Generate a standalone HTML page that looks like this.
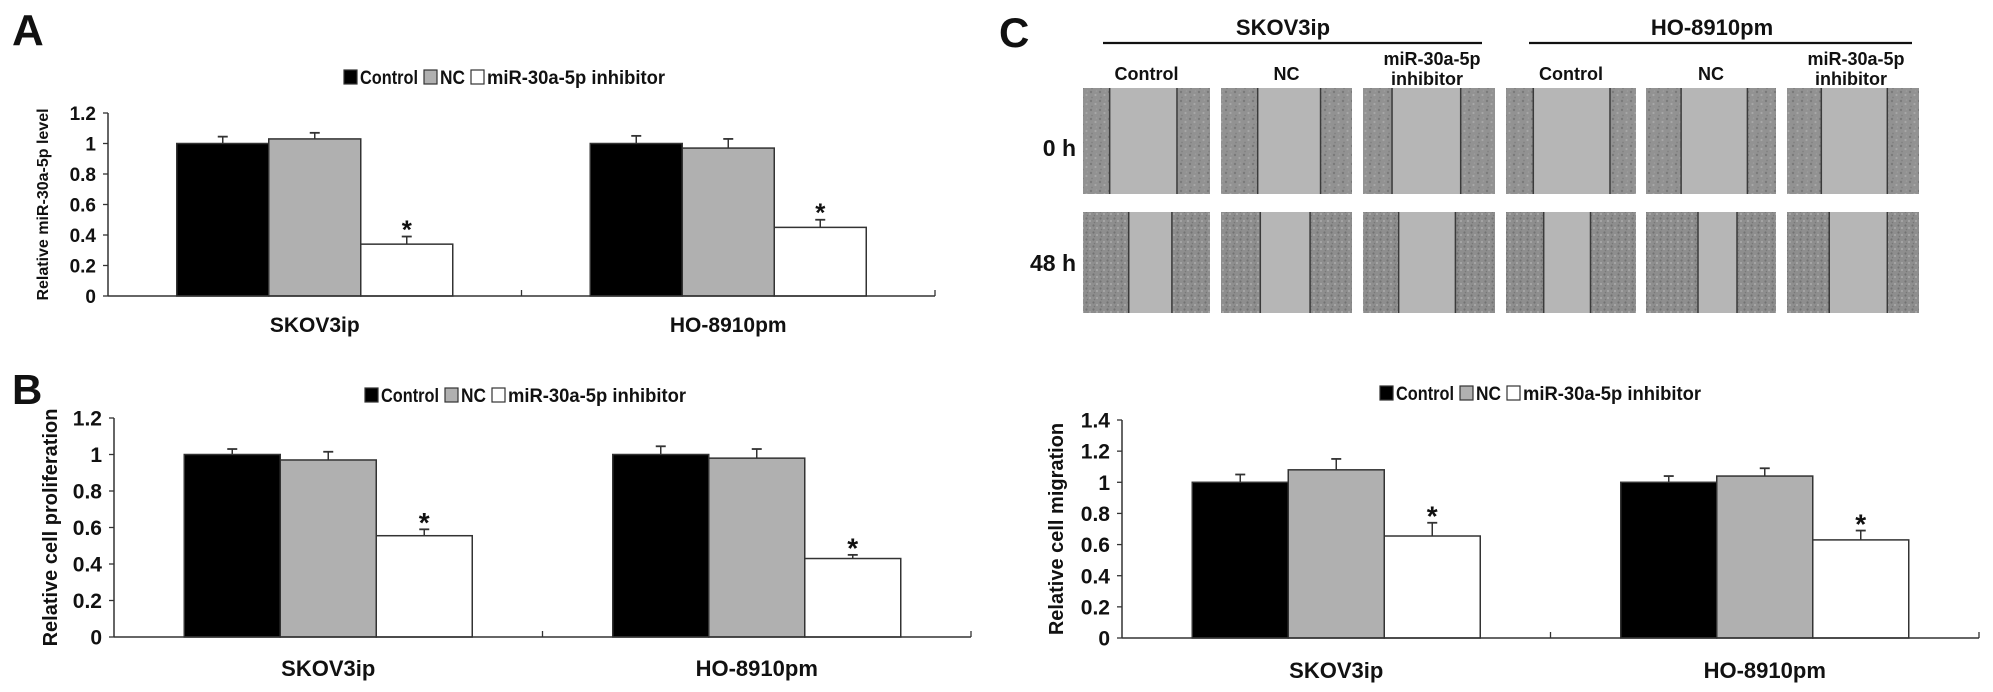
<!DOCTYPE html>
<html><head><meta charset="utf-8"><title>miR-30a-5p figure</title>
<style>
html,body{margin:0;padding:0;background:#fff;}
svg{display:block;}
text{font-family:"Liberation Sans Narrow","Liberation Sans",sans-serif;font-weight:bold;fill:#111;}
</style></head>
<body>
<svg id="fig" width="1993" height="692" viewBox="0 0 1993 692" xmlns="http://www.w3.org/2000/svg">
<defs>
<pattern id="cells" width="9" height="9" patternUnits="userSpaceOnUse">
<rect width="9" height="9" fill="#929292"/>
<circle cx="2" cy="2" r="1.2" fill="#7a7a7a"/><circle cx="6.5" cy="5" r="1.1" fill="#a8a8a8"/>
<circle cx="3" cy="7.5" r="0.9" fill="#808080"/><circle cx="7.5" cy="1" r="0.8" fill="#9d9d9d"/>
</pattern>
<pattern id="cells2" width="7" height="7" patternUnits="userSpaceOnUse">
<rect width="7" height="7" fill="#8e8e8e"/>
<circle cx="1.5" cy="1.5" r="1.1" fill="#727272"/><circle cx="5" cy="4" r="1" fill="#ababab"/>
<circle cx="2.5" cy="5.5" r="0.8" fill="#787878"/>
</pattern>
</defs>
<text x="12" y="45" font-size="44" font-family="Liberation Sans">A</text>
<text x="12" y="404" font-size="42" font-family="Liberation Sans">B</text>
<text x="999" y="47" font-size="42" font-family="Liberation Sans">C</text>
<g id="chartA"></g>
<g id="chartB"></g>
<g id="chartC"></g>
<g id="scratch"></g>
</svg>
<script>
// ---- data ----
const categories = ["SKOV3ip", "HO-8910pm"];
const seriesNames = ["Control", "NC", "miR-30a-5p inhibitor"];
const seriesFill = ["#000000", "#b0b0b0", "#ffffff"];
// Panel A: relative miR-30a-5p level
const aControl = [1.00, 1.00];
const aNC = [1.03, 0.97];
const aInhibitor = [0.34, 0.45];
const aControlErr = [0.045, 0.05];
const aNCErr = [0.04, 0.06];
const aInhibitorErr = [0.05, 0.05];
const aTicks = ["0", "0.2", "0.4", "0.6", "0.8", "1", "1.2"];
// Panel B: relative cell proliferation
const bControl = [1.00, 1.00];
const bNC = [0.97, 0.98];
const bInhibitor = [0.555, 0.43];
const bControlErr = [0.03, 0.045];
const bNCErr = [0.045, 0.05];
const bInhibitorErr = [0.035, 0.02];
const bTicks = ["0", "0.2", "0.4", "0.6", "0.8", "1", "1.2"];
// Panel C: relative cell migration
const cControl = [1.00, 1.00];
const cNC = [1.08, 1.04];
const cInhibitor = [0.655, 0.63];
const cControlErr = [0.05, 0.04];
const cNCErr = [0.07, 0.05];
const cInhibitorErr = [0.085, 0.06];
const cTicks = ["0", "0.2", "0.4", "0.6", "0.8", "1", "1.2", "1.4"];
// Scratch assay wound-edge positions (fraction of image width)
const woundLeft0h = [0.21, 0.28, 0.22, 0.21, 0.27, 0.26];
const woundRight0h = [0.74, 0.76, 0.74, 0.80, 0.78, 0.76];
const woundLeft48h = [0.36, 0.30, 0.27, 0.29, 0.40, 0.32];
const woundRight48h = [0.70, 0.68, 0.70, 0.65, 0.70, 0.76];

const NS = "http://www.w3.org/2000/svg";
function mk(parent, tag, attrs, txt) {
  const e = document.createElementNS(NS, tag);
  for (const k in attrs) e.setAttribute(k, attrs[k]);
  if (txt !== undefined) e.textContent = txt;
  parent.appendChild(e);
  return e;
}

function drawChart(g, cfg) {
  const series = cfg.series, errs = cfg.errs;
  const ticks = cfg.ticks;
  const maxV = parseFloat(ticks[ticks.length - 1]);
  const y = v => cfg.y0 - (v / maxV) * (cfg.y0 - cfg.yTop);
  const catW = (cfg.x1 - cfg.x0) / categories.length;
  const xCat = i => cfg.x0 + i * catW;
  const bw = cfg.bw;
  const groupOff = (catW - bw * series.length) / 2;
  const xBar = (i, s) => xCat(i) + groupOff + s * bw;

  ticks.forEach((t) => {
    const yy = y(parseFloat(t));
    const tk = mk(g, "line", {x1: cfg.x0 - 5, x2: cfg.x0, y1: yy, y2: yy, stroke: "#333", "stroke-width": 1.3});
    
    
    const tl = mk(g, "text", {x: cfg.x0 - 12, y: yy + cfg.tickFs * 0.36, "text-anchor": "end", "font-size": cfg.tickFs}, t);
    
    
  });
  const ya = mk(g, "line", {x1: cfg.x0, x2: cfg.x0, y1: cfg.yTop, y2: cfg.y0, stroke: "#333", "stroke-width": 1.5});
  
  

  categories.forEach((c, i) => {
    series.forEach((arr, s) => {
      const v = arr[i], e = errs[s][i];
      const xb = xBar(i, s);
      const cx = xb + bw / 2;
      const el = mk(g, "line", {x1: cx, x2: cx, y1: y(v), y2: y(v + e), stroke: "#333", "stroke-width": 1.5});
      
      
      const ec = mk(g, "line", {x1: cx - 5, x2: cx + 5, y1: y(v + e), y2: y(v + e), stroke: "#333", "stroke-width": 1.8});
      
      
      const r = mk(g, "rect", {x: xb, y: y(v), width: bw, height: y(0) - y(v), fill: seriesFill[s], stroke: "#333", "stroke-width": 1.5});
      
      
      if (s === 2) {
        const st = mk(g, "text", {x: cx, y: y(v + e) - 9 + cfg.starFs * 0.42, "text-anchor": "middle", "font-size": cfg.starFs, "font-family": "Liberation Sans"}, "*");
        
        
      }
    });
    const cl = mk(g, "text", {x: xCat(i) + catW / 2, y: cfg.labelY, "text-anchor": "middle", "font-size": cfg.catFs}, c);
    
    
  });
  const xa = mk(g, "line", {x1: cfg.x0, x2: cfg.x1, y1: cfg.y0, y2: cfg.y0, stroke: "#333", "stroke-width": 1.5});
  
  
  for (let i = 1; i <= categories.length; i++) {
    const t = mk(g, "line", {x1: xCat(i), x2: xCat(i), y1: cfg.y0, y2: cfg.y0 - 6, stroke: "#333", "stroke-width": 1.3});
    
    
  }
  const yt = mk(g, "text", {x: 0, y: 0, transform: "translate(" + cfg.titleX + "," + ((cfg.yTop + cfg.y0) / 2) + ") rotate(-90)", "text-anchor": "middle", "font-size": cfg.titleFs, "font-family": "Liberation Sans"}, cfg.title);
  
  
  const lg = mk(g, "g", {});
  
  
  let lx = cfg.legX;
  const widths = cfg.legW;
  seriesNames.forEach((n, s) => {
    const sq = mk(lg, "rect", {x: lx, y: cfg.legY - 7, width: 13, height: 14, fill: seriesFill[s], stroke: "#333", "stroke-width": 1.2});
    
    
    const lt = mk(lg, "text", {x: lx + 16, y: cfg.legY + 7, "font-size": cfg.legFs, textLength: widths[s], lengthAdjust: "spacingAndGlyphs"}, n);
    
    
    lx += 16 + widths[s] + 6;
  });
}

drawChart(document.getElementById("chartA"), {
  series: [aControl, aNC, aInhibitor], errs: [aControlErr, aNCErr, aInhibitorErr], ticks: aTicks,
  x0: 108, x1: 935, y0: 296, yTop: 113, bw: 92, tickFs: 19, starFs: 26, catFs: 21, labelY: 332,
  title: "Relative miR-30a-5p level", titleX: 48, titleFs: 16,
  legX: 344, legY: 77, legFs: 19, legW: [58, 25, 178]
});
drawChart(document.getElementById("chartB"), {
  series: [bControl, bNC, bInhibitor], errs: [bControlErr, bNCErr, bInhibitorErr], ticks: bTicks,
  x0: 114, x1: 971, y0: 637, yTop: 418, bw: 96, tickFs: 21, starFs: 28, catFs: 22, labelY: 676,
  title: "Relative cell proliferation", titleX: 57, titleFs: 20,
  legX: 365, legY: 395, legFs: 19, legW: [58, 25, 178]
});
drawChart(document.getElementById("chartC"), {
  series: [cControl, cNC, cInhibitor], errs: [cControlErr, cNCErr, cInhibitorErr], ticks: cTicks,
  x0: 1122, x1: 1979, y0: 638, yTop: 420, bw: 96, tickFs: 21, starFs: 28, catFs: 22, labelY: 678,
  title: "Relative cell migration", titleX: 1063, titleFs: 20,
  legX: 1380, legY: 393, legFs: 19, legW: [58, 25, 178]
});

(function () {
  const g = document.getElementById("scratch");
  const cols = [[1083, 1210], [1221, 1352], [1363, 1495], [1506, 1636], [1646, 1776], [1787, 1919]];
  const colNames = ["Control", "NC", "miR-30a-5p inhibitor", "Control", "NC", "miR-30a-5p inhibitor"];
  const rows = [[88, 194, woundLeft0h, woundRight0h, "0h"], [212, 313, woundLeft48h, woundRight48h, "48h"]];
  rows.forEach((r) => {
    cols.forEach((c, i) => {
      const w = c[1] - c[0], h = r[1] - r[0];
      const im = mk(g, "g", {});
      
      
      mk(im, "rect", {x: c[0], y: r[0], width: w, height: h, fill: r[4] === "0h" ? "url(#cells)" : "url(#cells2)"});
      const l = c[0] + r[2][i] * w, rr = c[0] + r[3][i] * w;
      mk(im, "rect", {x: l, y: r[0], width: rr - l, height: h, fill: "#b6b6b6"});
      mk(im, "line", {x1: l, x2: l, y1: r[0], y2: r[1], stroke: "#3a3a3a", "stroke-width": 1.5});
      mk(im, "line", {x1: rr, x2: rr, y1: r[0], y2: r[1], stroke: "#3a3a3a", "stroke-width": 1.5});
    });
  });
  const hdr = [["SKOV3ip", 1283, 1103, 1482], ["HO-8910pm", 1712, 1529, 1912]];
  hdr.forEach((hd) => {
    const t = mk(g, "text", {x: hd[1], y: 35, "text-anchor": "middle", "font-size": 22, "font-family": "Liberation Sans"}, hd[0]);
    
    
    const ln = mk(g, "line", {x1: hd[2], x2: hd[3], y1: 43, y2: 43, stroke: "#111", "stroke-width": 2.2});
    
    
  });
  cols.forEach((c, i) => {
    const cx = (c[0] + c[1]) / 2;
    if (colNames[i] === "miR-30a-5p inhibitor") {
      const t1 = mk(g, "text", {x: cx + 3, y: 65, "text-anchor": "middle", "font-size": 18}, "miR-30a-5p");
      
      
      const t2 = mk(g, "text", {x: cx - 2, y: 85, "text-anchor": "middle", "font-size": 18}, "inhibitor");
      
      
    } else {
      const t = mk(g, "text", {x: cx, y: 80, "text-anchor": "middle", "font-size": 18, "font-family": "Liberation Sans"}, colNames[i]);
      
      
    }
  });
  const t0 = mk(g, "text", {x: 1076, y: 156, "text-anchor": "end", "font-size": 23, "font-family": "Liberation Sans"}, "0 h");
  
  
  const t48 = mk(g, "text", {x: 1076, y: 271, "text-anchor": "end", "font-size": 23, "font-family": "Liberation Sans"}, "48 h");
  
  
})();
</script>
</body></html>
